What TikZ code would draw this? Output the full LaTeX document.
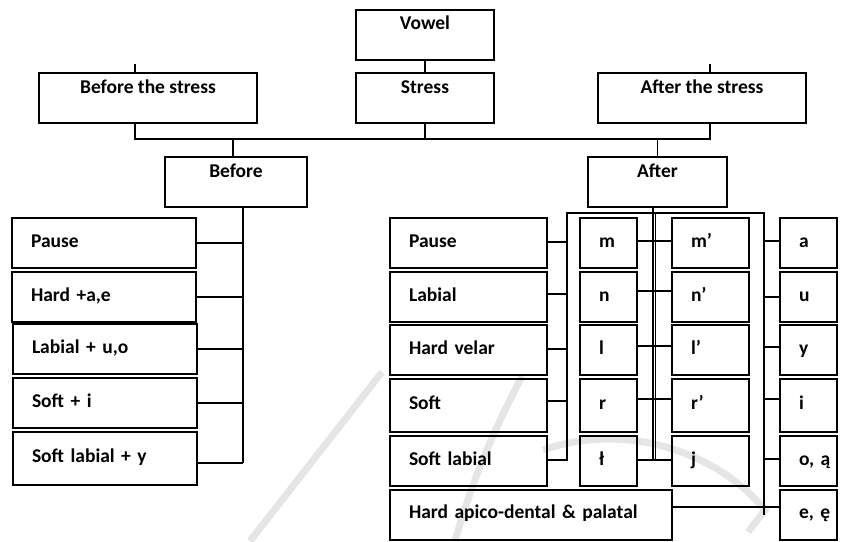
\documentclass[tikz,border=0pt]{standalone}
\usepackage{fontspec}
\setmainfont{Carlito}
\usepackage{tikz}
\usetikzlibrary{calc,positioning}
\tikzset{
    box/.style={
    rectangle,draw=black,line width=2pt,inner sep=0pt,
    font=\fontsize{19.5}{23}\selectfont\bfseries
    },
    headbox/.style={
    box,text height=20pt,text depth=30pt,align=center
    },
    rowbox/.style={
    box,text height=29pt,text depth=21pt,inner xsep=19pt,align=left
    },
    link/.style={
    line width=1.4pt
    },
    watermark/.style={
    draw=black!10,line width=7pt
    },
}

\begin{document}
\begin{tikzpicture}[x=1pt, y=-1pt]
   \useasboundingbox (0,0) rectangle (845,541);

   %watermark
   \draw[watermark] (250,541) -- (382,372);
   \draw[watermark] (455,541) .. controls (478,460) and (505,410) .. (522,376);
   \draw[watermark] (543,450) .. controls (630,420) and (720,455) .. (765,510) -- (748,532);

   %top
   \node[headbox, minimum width=138pt] (vowel) at (425,34.5) {Vowel};
   \node[headbox, minimum width=218pt] (bstress) at (148,98) {Before the stress};
   \node[headbox, minimum width=138pt] (stress) at (425,98) {Stress};
   \node[headbox, minimum width=208pt] (astress) at (702,98) {After the stress};
   \node[headbox, minimum width=142pt] (before) at (236,182) {Before};
   \node[headbox, minimum width=139pt] (after) at (657.5,182) {After};

   %before
   \node[rowbox, text width=146pt] (bpause) at (104,243) {Pause};
   \node[rowbox, text width=146pt] (bhard) at (104,297) {Hard +a,e};
   \node[rowbox, text width=146pt] (blabial) at (105,349) {Labial + u,o};
   \node[rowbox, text width=146pt] (bsoft) at (105,403) {Soft + i};
   \node[rowbox, text width=146pt, minimum height=53pt] (bsoftlab) at (105,458.5) {Soft labial + y};

   %after, context
   \node[rowbox, text width=119pt] (apause) at (468.5,243) {Pause};
   \node[rowbox, text width=119pt] (alabial) at (468.5,297) {Labial};
   \node[rowbox, text width=119pt] (avelar) at (468.5,350) {Hard velar};
   \node[rowbox, text width=119pt, minimum height=53pt] (asoft) at (468.5,405.5) {Soft};
   \node[rowbox, text width=119pt] (asoftlab) at (468.5,461) {Soft labial};
   \node[rowbox, text width=244pt] (aapico) at (531,514.5) {Hard apico-dental \& palatal};

   %after, hard consonants
   \node[rowbox, text width=19pt] (cm) at (608.5,243) {m};
   \node[rowbox, text width=19pt] (cn) at (608.5,297) {n};
   \node[rowbox, text width=19pt] (cl) at (608.5,350) {l};
   \node[rowbox, text width=19pt, minimum height=53pt] (cr) at (608.5,405.5) {r};
   \node[rowbox, text width=19pt] (cll) at (608.5,461) {ł};

   %after, soft consonants
   \node[rowbox, text width=39pt] (sm) at (710.5,243) {m’};
   \node[rowbox, text width=39pt] (sn) at (710.5,297) {n’};
   \node[rowbox, text width=39pt] (sl) at (710.5,350) {l’};
   \node[rowbox, text width=39pt, minimum height=53pt] (sr) at (710.5,405.5) {r’};
   \node[rowbox, text width=39pt] (sj) at (710.5,461) {j};

   %after, vowels
   \node[rowbox, text width=19pt] (va) at (808.5,243) {a};
   \node[rowbox, text width=19pt] (vu) at (808.5,297) {u};
   \node[rowbox, text width=19pt] (vy) at (808.5,350) {y};
   \node[rowbox, text width=19pt, minimum height=53pt] (vi) at (808.5,405.5) {i};
   \node[rowbox, text width=19pt] (vo) at (808.5,461) {\mbox{o, ą}};
   \node[rowbox, text width=19pt] (ve) at (808.5,514.5) {\mbox{e, ę}};

   %bus corners
   \coordinate (topl) at (135,139);
   \coordinate (topr) at (710,139);
   \coordinate (lbus) at (243,463);
   \coordinate (bl) at (567,213);
   \coordinate (br) at (764,213);
   \coordinate (bc) at (653,460);
   \coordinate (bc2) at (655.5,213);

   %top
   \draw[link] (vowel) -- (stress);
   \draw[link] ($(bstress.north)+(-13,-8)$) -- (bstress.north -| topl);
   \draw[link] ($(astress.north)+(8,-8)$) -- (astress.north -| topr);
   \draw[link] (bstress.south -| topl) -- (topl) -- (topr) -- (astress.south -| topr);
   \draw[link] (stress.south) -- (stress.south |- topl);
   \draw[link] (before.north -| 233,0) -- (233,139);
   \draw[link] (after.north) -- (after.north |- topl);

   %before
   \draw[link] (before.south -| lbus) -- (lbus);
   \draw[link] (bpause.east) -- (bpause.east -| lbus);
   \draw[link] (bhard.east) -- (bhard.east -| lbus);
   \draw[link] (blabial.east) -- (blabial.east -| lbus);
   \draw[link] (bsoft.east) -- (bsoft.east -| lbus);
   \draw[link] (bsoftlab.east |- lbus) -- (lbus);

   %after
   \draw[link] (after.south -| bc) -- (bc);
   \draw[link] (bc2) -- (bc2 |- bc);
   \draw[link] (apause.east |- 0,242) -- (bl |- 0,242);
   \draw[link] (asoftlab.east |- 0,460) -- (bl |- 0,460) -- (bl) -- (br) -- (br |- aapico.east);
   \draw[link] (alabial.east |- 0,294) -- (bl |- 0,294);
   \draw[link] (avelar.east |- 0,349) -- (bl |- 0,349);
   \draw[link] (asoft.east |- 0,401) -- (bl |- 0,401);
   \draw[link] (cm.east |- 0,241) -- (sm.west |- 0,241);
   \draw[link] (cn.east |- 0,291) -- (sn.west |- 0,291);
   \draw[link] (cl.east |- 0,346) -- (sl.west |- 0,346);
   \draw[link] (cr.east |- 0,399) -- (sr.west |- 0,399);
   \draw[link] (cll.east |- 0,460) -- (sj.west |- 0,460);
   \draw[link] (br |- 0,241) -- (va.west |- 0,241);
   \draw[link] (br |- 0,297) -- (vu.west |- 0,297);
   \draw[link] (br |- 0,347) -- (vy.west |- 0,347);
   \draw[link] (br |- 0,399) -- (vi.west |- 0,399);
   \draw[link] (br |- 0,459) -- (vo.west |- 0,459);
   \draw[link] (aapico.east |- 0,507) -- (ve.west |- 0,507);
\end{tikzpicture}
\end{document}
